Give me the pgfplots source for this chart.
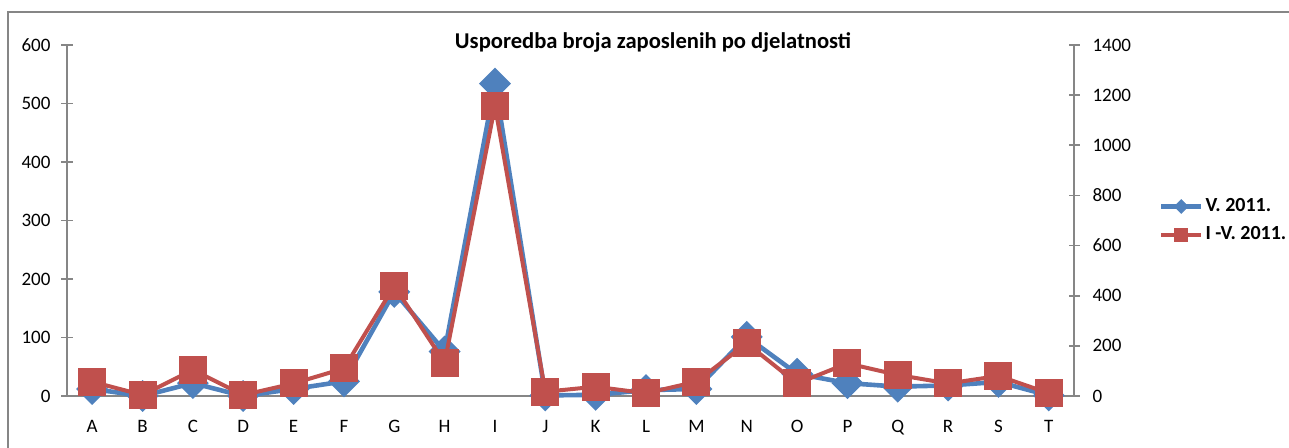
\documentclass[border=0pt]{standalone}
\usepackage{pgfplots}
\pgfplotsset{compat=1.18}
\usepackage{fontspec}
\setmainfont{Carlito}
\definecolor{serblue}{HTML}{4F81BD}
\definecolor{serred}{HTML}{C0504D}
\definecolor{axgray}{HTML}{868686}
\begin{document}
\begin{tikzpicture}
\pgfplotsset{
  base/.style={
    scale only axis,
    width=503.5pt, height=175.5pt,
    xmin=-0.5, xmax=19.5,
    ymin=0,
    clip=false,
    axis line style={axgray, line width=0.9pt},
    tick style={axgray, line width=0.9pt},
    tick align=center,
    major tick length=5.5pt,
    ticklabel style={font=\fontsize{9.5}{11}\selectfont, text=black},
    /pgf/number format/assume math mode=true,
    /pgf/number format/1000 sep={},
  }
}
\useasboundingbox (-33.5pt,-26pt) rectangle (611pt,198pt);
\draw[axgray, line width=0.8pt] (-29.5pt,-26pt) -- (-29.5pt,192pt) -- (611pt,192pt);

\begin{axis}[base,
  axis x line=bottom, axis y line=left,
  x axis line style={-}, y axis line style={-},
  ymax=600, ytick={0,100,...,600},
  xtick={0,...,19},
  xticklabels={A,B,C,D,E,F,G,H,I,J,K,L,M,N,O,P,Q,R,S,T},
  x tick style={draw=none},
  minor xtick={-0.5,0.5,...,19.5},
  minor tick length=5pt,
  minor x tick style={axgray, line width=0.9pt},
  xticklabel style={yshift=-6pt},
  yticklabel style={xshift=-2pt},
]
\addplot[serblue, line width=2.3pt, mark=square*, mark size=4.5pt,
  mark options={rotate=45, solid, fill=serblue}]
coordinates {
(0,12) (1,0) (2,22) (3,0) (4,12) (5,25) (6,178) (7,76) (8,534) (9,1)
(10,2) (11,10) (12,12) (13,101) (14,38) (15,22) (16,16) (17,18) (18,24) (19,1)
};
\end{axis}

\begin{axis}[base,
  axis x line=none, axis y line=right,
  y axis line style={-},
  ymax=1400, ytick={0,200,...,1400},
  yticklabel style={xshift=3pt},
  legend style={draw=none, fill=none, at={(1.078,0.5)}, anchor=west,
    font=\fontsize{10}{12}\selectfont\bfseries, row sep=2pt,
    nodes={inner xsep=1pt}},
  legend cell align=left,
]
\addlegendimage{legend image code/.code={
  \draw[serblue, line width=2.3pt] (0pt,0pt) -- (20pt,0pt);
  \fill[serblue, rotate around={45:(10pt,0pt)}] (7.6pt,-2.4pt) rectangle (12.4pt,2.4pt);
}}
\addlegendentry{V. 2011.}
\addlegendimage{legend image code/.code={
  \draw[serred, line width=2pt] (0pt,0pt) -- (20pt,0pt);
  \fill[serred] (6.8pt,-3.2pt) rectangle (13.2pt,3.2pt);
}}
\addlegendentry{I -V. 2011.}
\addplot[serred, line width=2pt, mark=square*, mark size=6pt,
  mark options={solid, fill=serred}, forget plot]
coordinates {
(0,57) (1,4) (2,104) (3,4) (4,50) (5,110) (6,439) (7,133) (8,1157) (9,17)
(10,37) (11,11) (12,57) (13,210) (14,50) (15,130) (16,84) (17,50) (18,80) (19,11)
};
\end{axis}

\node[font=\fontsize{11.3}{13}\selectfont\bfseries] at (293pt,177pt) {Usporedba broja zaposlenih po djelatnosti};
\end{tikzpicture}
\end{document}
